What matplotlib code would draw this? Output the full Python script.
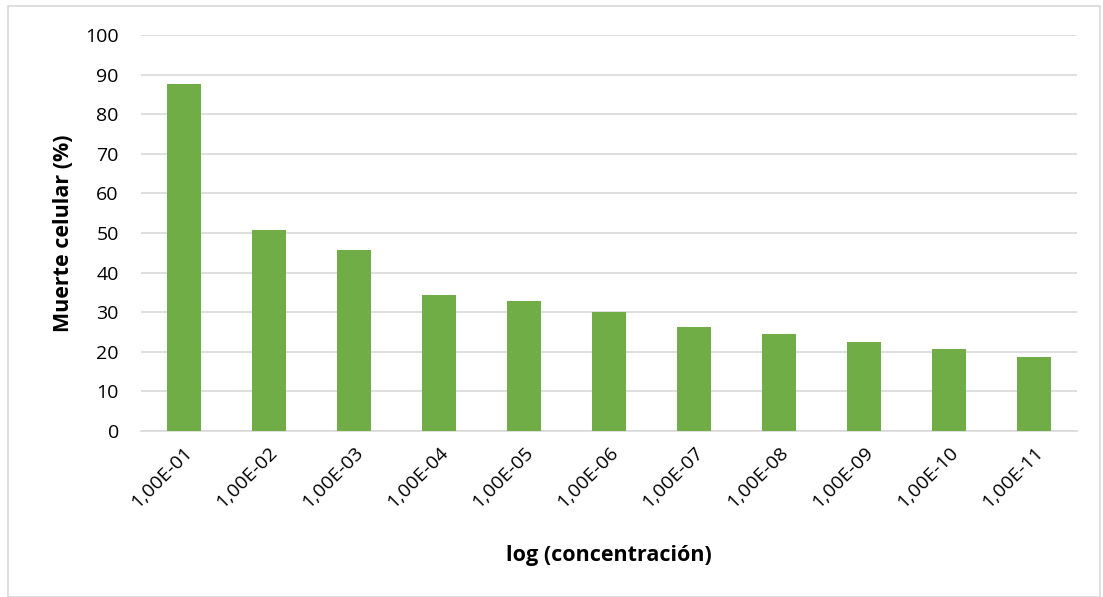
import matplotlib.pyplot as plt
from matplotlib.patches import Rectangle
import numpy as np

categories = ["1,00E-01", "1,00E-02", "1,00E-03", "1,00E-04", "1,00E-05",
              "1,00E-06", "1,00E-07", "1,00E-08", "1,00E-09", "1,00E-10",
              "1,00E-11"]
muerte = [87.7, 50.8, 45.8, 34.4, 32.9, 30.1, 26.2, 24.6, 22.6, 20.8, 18.7]

plt.rcParams['font.family'] = ['Open Sans', 'DejaVu Sans']

fig = plt.figure(figsize=(11.03, 5.97), dpi=100)
ax = fig.add_axes([141/1103, 1 - 431/597, (1077 - 141)/1103, (431 - 35)/597])

# chart frame
fig.patches.append(Rectangle((8/1103, 0), (1100 - 8)/1103, 1 - 6/597,
                             transform=fig.transFigure, fill=False,
                             edgecolor='#d9d9d9', linewidth=1.2))

x = np.arange(len(categories))
ax.bar(x, muerte, width=0.4, color='#70ad47', zorder=3)

ax.set_xlim(-0.5, len(categories) - 0.5)
ax.set_ylim(0, 100)
ax.set_yticks(range(0, 101, 10))
ax.yaxis.grid(True, color='#d9d9d9', linewidth=1.2, zorder=0)
for s in ['top', 'right', 'left']:
    ax.spines[s].set_visible(False)
ax.spines['bottom'].set_color('#d9d9d9')
ax.spines['bottom'].set_linewidth(1.2)
ax.tick_params(axis='both', length=0, labelsize=14, colors='black')
ax.tick_params(axis='y', pad=16)
ax.tick_params(axis='x', pad=9)
ax.set_xticks(x)
ax.set_xticklabels(categories, rotation=45, ha='right', rotation_mode='anchor')

ax.set_ylabel("Muerte celular (%)", fontsize=15.5, fontweight='bold', labelpad=8)
ax.set_xlabel("log (concentración)", fontsize=15.5, fontweight='bold', labelpad=24)

fig.savefig("out.png", dpi=100)
